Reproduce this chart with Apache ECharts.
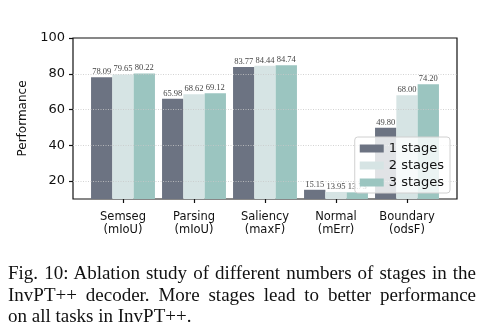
<!DOCTYPE html>
<html><head><meta charset="utf-8">
<script src="https://cdn.jsdelivr.net/npm/echarts@6/dist/echarts.min.js"></script>
<style>
html,body{margin:0;padding:0;background:#fff;}
#chart{position:absolute;left:0;top:0;width:484px;height:336px;}
#cap{position:absolute;left:8px;top:262px;width:468px;font-family:"Liberation Serif","DejaVu Serif",serif;font-size:19px;line-height:21.5px;color:#111;}
#cap div{text-align:justify;text-align-last:justify;}
#cap div.last{text-align-last:left;}
</style></head>
<body>
<div id="chart"></div>
<div id="cap"><div>Fig. 10: Ablation study of different numbers of stages in the</div><div>InvPT++ decoder. More stages lead to better performance</div><div class="last">on all tasks in InvPT++.</div></div>
<script>
const categories = ['Semseg\n(mIoU)', 'Parsing\n(mIoU)', 'Saliency\n(maxF)', 'Normal\n(mErr)', 'Boundary\n(odsF)'];
const seriesNames = ['1 stage', '2 stages', '3 stages'];
const stage1 = [78.09, 65.98, 83.77, 15.15, 49.80];
const stage2 = [79.65, 68.62, 84.44, 13.95, 68.00];
const stage3 = [80.22, 69.12, 84.74, 13.73, 74.20];
const yTicks = [20, 40, 60, 80, 100];
const gridLines = [20, 40, 60, 80];
const colors = ['#6c7382', '#d6e4e4', '#9bc5c0'];

const chart = echarts.init(document.getElementById('chart'));
const values = [stage1, stage2, stage3];
const series = values.map((v, i) => ({
  name: seriesNames[i], type: 'bar', xAxisIndex: 1, yAxisIndex: 1,
  data: v, barWidth: '30%', barGap: '0%',
  itemStyle: { color: colors[i] },
  label: { show: true, position: 'top', distance: 1, fontFamily: 'Liberation Serif', fontSize: 8.5, color: '#444',
    formatter: p => p.value.toFixed(2) },
  z: 3
}));
series.push({
  type: 'line', xAxisIndex: 0, yAxisIndex: 0, data: [], silent: true,
  markLine: { silent: true, symbol: 'none', label: { show: false },
    lineStyle: { color: '#c8c8c8', type: [1, 1.5], width: 0.8 },
    data: gridLines.map(g => ({ yAxis: g })) }, z: 1
});
chart.setOption({
  animation: false,
  grid: [
    { left: 73, right: 27, top: 38, bottom: 137, show: true, borderColor: '#111', borderWidth: 1.2, backgroundColor: 'transparent', z: 0 },
    { left: 87.5, right: 41.5, top: 38, bottom: 137 }
  ],
  xAxis: [
    { gridIndex: 0, type: 'value', min: 0, max: 1, show: false },
    { gridIndex: 1, type: 'category', data: categories,
      axisLine: { show: false },
      axisTick: { show: true, alignWithLabel: true, length: 4, lineStyle: { color: '#111', width: 1.2 } },
      axisLabel: { interval: 0, hideOverlap: false, fontFamily: 'DejaVu Sans', fontSize: 11.5, color: '#111', lineHeight: 13, margin: 12 } }
  ],
  yAxis: [
    { gridIndex: 0, type: 'value', min: 10, max: 100, interval: 10,
      name: 'Performance', nameLocation: 'middle', nameGap: 41, nameRotate: 90,
      nameTextStyle: { fontFamily: 'DejaVu Sans', fontSize: 12, color: '#111' },
      axisLine: { show: false },
      axisTick: { show: true, customValues: yTicks, length: 4, lineStyle: { color: '#111', width: 1.2 } },
      axisLabel: { customValues: yTicks, fontFamily: 'DejaVu Sans', fontSize: 13, color: '#111', margin: 8 },
      splitLine: { show: false } },
    { gridIndex: 1, type: 'value', min: 10, max: 100, show: false, splitLine: { show: false } }
  ],
  legend: {
    data: seriesNames, orient: 'vertical', right: 34, bottom: 143,
    itemWidth: 24, itemHeight: 8, itemGap: 4,
    textStyle: { fontFamily: 'DejaVu Sans', fontSize: 13, color: '#111' },
    backgroundColor: 'rgba(255,255,255,0.8)', borderColor: '#d0d0d0', borderWidth: 1, borderRadius: 3,
    padding: [5, 6, 4, 5], z: 10, icon: 'rect'
  },
  series: series
});
</script>
</body></html>
